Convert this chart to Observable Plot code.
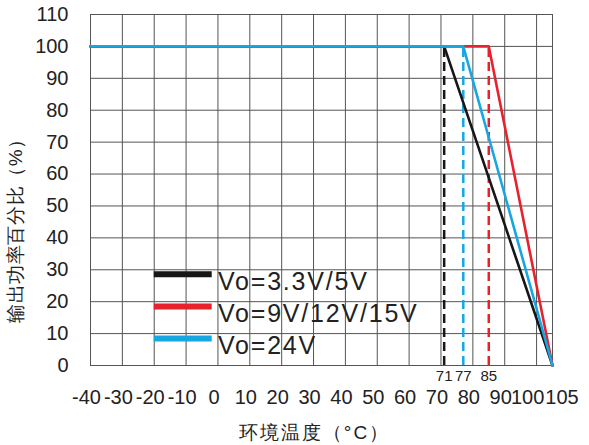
<!DOCTYPE html>
<html>
<head>
<meta charset="utf-8">
<script src="https://cdn.jsdelivr.net/npm/d3@7"></script>
<script src="https://cdn.jsdelivr.net/npm/@observablehq/plot@0.6"></script>
<style>
  html, body { margin: 0; padding: 0; background: #fff; }
</style>
</head>
<body>
<div id="chart"></div>
<script>
// ---- data ----
const seriesNames = ["Vo=3.3V/5V", "Vo=9V/12V/15V", "Vo=24V"];
const seriesColors = ["#161616", "#e8222c", "#18a6e2"];
const seriesKnee = [71, 85, 77];          // temperature where derating starts
const tempStart = -40;
const tempEnd = 105;
const fullLoad = 100;
const endLoad = 0;
const kneeLabels = [71, 77, 85];
const xTicks = [-40, -30, -20, -10, 0, 10, 20, 30, 40, 50, 60, 70, 80, 90, 100, 105];
const yTicks = [0, 10, 20, 30, 40, 50, 60, 70, 80, 90, 100, 110];
const xTitle = "环境温度（°C）";
const yTitle = "输出功率百分比（%）";

// ---- derived tables ----
const lineData = [];
seriesNames.forEach((name, i) => {
  lineData.push({series: name, x: tempStart, y: fullLoad});
  lineData.push({series: name, x: seriesKnee[i], y: fullLoad});
  lineData.push({series: name, x: tempEnd, y: endLoad});
});
const dashData = seriesNames.map((name, i) => ({series: name, x: seriesKnee[i], y1: endLoad, y2: fullLoad}));
// legend rows (drawn inside the plot)
const legendRowY = [28.6, 18.5, 8.5];
const legendData = seriesNames.map((name, i) => ({series: name, y: legendRowY[i]}));

const color = {domain: seriesNames, range: seriesColors};
const drawOrder = [0, 1, 2];
const font = "'Liberation Sans', Arial, sans-serif";
const gridColor = "#555";
const textColor = "#222";

const mainTicks = xTicks.filter(t => t < 100);

const chart = Plot.plot({
  width: 589,
  height: 445,
  marginLeft: 90,
  marginRight: 37,
  marginTop: 14,
  marginBottom: 80,
  style: {fontFamily: font, background: "#fff", color: textColor},
  x: {domain: [tempStart, tempEnd], axis: null},
  y: {domain: [0, 110], axis: null},
  color,
  marks: [
    Plot.gridX(xTicks, {stroke: gridColor, strokeOpacity: 1, strokeWidth: 1}),
    Plot.gridY(yTicks, {stroke: gridColor, strokeOpacity: 1, strokeWidth: 1}),
    Plot.frame({stroke: gridColor, strokeWidth: 1}),
    // y tick labels
    Plot.text(yTicks, {x: tempStart, y: d => d, text: d => String(d), textAnchor: "end", dx: -22, fontSize: 20, fill: textColor}),
    // x tick labels
    Plot.text(mainTicks, {x: d => d, y: 0, text: d => String(d), dx: -4, dy: 32, fontSize: 20, fill: textColor}),
    Plot.text([100], {x: d => d, y: 0, text: d => String(d), dx: -9, dy: 32, fontSize: 20, fill: textColor}),
    Plot.text([105], {x: d => d, y: 0, text: d => String(d), dx: 9.5, dy: 32, fontSize: 20, fill: textColor}),
    // knee labels
    Plot.text(kneeLabels, {x: d => d, y: 0, text: d => String(d), dy: 11, fontSize: 15, fill: textColor}),
    // dashed verticals
    Plot.ruleX(dashData, {x: "x", y1: "y1", y2: "y2", stroke: "series", strokeWidth: 2.5, strokeDasharray: "9,5"}),
    // derating curves
    ...drawOrder.map(i => Plot.line(lineData.filter(d => d.series === seriesNames[i]), {x: "x", y: "y", stroke: "series", strokeWidth: 2.6})),
    // legend
    Plot.ruleY(legendData, {y: "y", x1: -20, x2: -1.8, stroke: "series", strokeWidth: 6}),
    Plot.text(legendData, {x: 0, y: "y", text: "series", textAnchor: "start", dy: 7.5, fontSize: 25, fill: textColor}),
    // axis titles
    Plot.text([xTitle], {frameAnchor: "bottom", text: d => d, textAnchor: "middle", lineAnchor: "middle", dx: -7, dy: 67, fontSize: 19, fill: textColor}),
    Plot.text([yTitle], {frameAnchor: "left", text: d => d, textAnchor: "middle", lineAnchor: "middle", rotate: -90, dx: -75, dy: 36, fontSize: 19, fill: textColor})
  ]
});

// letter spacing tweaks (style only)
const spacing = new Map([
  ...seriesNames.map(n => [n, "1.8px"]),
  [xTitle, "2px"],
  [yTitle, "0.6px"]
]);
d3.select(chart).selectAll("text").each(function() {
  const s = spacing.get(this.textContent);
  if (s) this.style.letterSpacing = s;
});
document.getElementById("chart").appendChild(chart);
</script>
</body>
</html>
